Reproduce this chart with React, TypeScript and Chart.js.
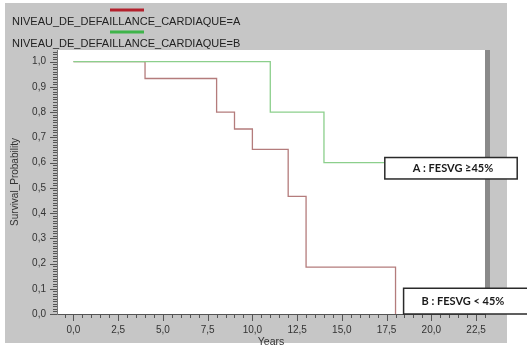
import React, { useEffect, useRef } from 'react';
import { Chart, registerables } from 'chart.js';

Chart.register(...registerables);

// ---- data ----
const seriesLabels = ['NIVEAU_DE_DEFAILLANCE_CARDIAQUE=A', 'NIVEAU_DE_DEFAILLANCE_CARDIAQUE=B'];
const yearsA = [0, 4, 8, 9, 10, 12, 13, 18];
const survivalA = [1.0, 0.933, 0.8, 0.733, 0.652, 0.466, 0.186, 0.0];
const yearsB = [0, 11, 14, 18];
const survivalB = [1.0, 0.8, 0.6, 0.6];
const xMajorTicks = [0, 2.5, 5, 7.5, 10, 12.5, 15, 17.5, 20, 22.5];
const yMajorTicks = [0, 0.1, 0.2, 0.3, 0.4, 0.5, 0.6, 0.7, 0.8, 0.9, 1.0];
const noteTexts = ['A : FESVG ≥45%', 'B : FESVG < 45%'];

// ---- layout / style ----
const X_MIN = -0.92;
const X_MAX = 23.0;
const Y_MIN = 0;
const Y_MAX = 1.046;
const X_MINOR_STEP = 0.5;
const Y_MINOR_STEP = 0.01;
const FONT = '"Liberation Sans", Arial, sans-serif';
const lineColors = ['#b47c7c', '#8ccf8c'];
const legendColors = ['#b3202c', '#3fb44a'];
// note boxes positioned in data space
const notes = [
  { x0: 17.4, x1: 24.8, y0: 0.535, y1: 0.62, tx: 28 },
  { x0: 18.45, x1: 26.0, y0: 0.0, y1: 0.102, tx: 18 },
];

const fmt = (v: number) => v.toFixed(1).replace('.', ',');
const isMajor = (v: number, majors: number[]) => majors.some((m) => Math.abs(m - v) < 1e-6);

function minorTicks(min: number, max: number, step: number) {
  const out: number[] = [];
  const start = Math.ceil(min / step - 1e-9);
  const end = Math.floor(max / step + 1e-9);
  for (let i = start; i <= end; i++) out.push(Math.round(i * step * 1000) / 1000);
  return out;
}

const bgPlugin = {
  id: 'bg',
  beforeDraw(chart: any) {
    const { ctx, chartArea: a } = chart;
    ctx.save();
    ctx.fillStyle = '#ffffff';
    ctx.fillRect(0, 0, chart.width, chart.height);
    ctx.fillStyle = '#c6c6c6';
    ctx.fillRect(5, 3, 502, 340);
    ctx.fillStyle = '#ffffff';
    ctx.fillRect(a.left, a.top, a.right - a.left, a.bottom - a.top);
    ctx.fillStyle = '#8a8a8a';
    ctx.fillRect(a.right, a.top, 5, a.bottom - a.top);
    ctx.restore();
  },
};

const decoPlugin = {
  id: 'deco',
  afterDraw(chart: any) {
    const { ctx, chartArea: a } = chart;
    const xs = chart.scales.x;
    const ys = chart.scales.y;
    ctx.save();
    // tick marks
    ctx.strokeStyle = '#555';
    ctx.lineWidth = 1;
    ctx.beginPath();
    for (const v of minorTicks(X_MIN, X_MAX, X_MINOR_STEP)) {
      const px = Math.round(xs.getPixelForValue(v)) + 0.5;
      const len = isMajor(v, xMajorTicks) ? 7 : 4;
      ctx.moveTo(px, a.bottom);
      ctx.lineTo(px, a.bottom + len);
    }
    for (const v of minorTicks(Y_MIN, Y_MAX, Y_MINOR_STEP)) {
      const py = Math.round(ys.getPixelForValue(v)) + 0.5;
      const len = isMajor(v, yMajorTicks) ? 7 : 4;
      ctx.moveTo(a.left, py);
      ctx.lineTo(a.left - len, py);
    }
    ctx.stroke();

    // legend
    ctx.font = `11px ${FONT}`;
    ctx.textBaseline = 'middle';
    ctx.textAlign = 'left';
    chart.data.datasets.forEach((ds: any, i: number) => {
      const lineY = 10 + i * 22;
      ctx.strokeStyle = legendColors[i];
      ctx.lineWidth = 3;
      ctx.beginPath();
      ctx.moveTo(110, lineY);
      ctx.lineTo(144, lineY);
      ctx.stroke();
      ctx.fillStyle = '#222';
      ctx.fillText(ds.label, 12, lineY + 11.5);
    });

    // note boxes
    notes.forEach((n, i) => {
      const left = xs.getPixelForValue(n.x0);
      const right = xs.getPixelForValue(n.x1);
      const top = ys.getPixelForValue(n.y1);
      const bottom = ys.getPixelForValue(n.y0);
      ctx.fillStyle = '#ffffff';
      ctx.fillRect(left, top, right - left, bottom - top);
      ctx.strokeStyle = '#2a2a2a';
      ctx.lineWidth = 1.5;
      ctx.strokeRect(left, top, right - left, bottom - top);
      ctx.fillStyle = '#1a1a1a';
      ctx.font = `bold 11px Lato, "Open Sans", sans-serif`;
      ctx.textBaseline = 'middle';
      ctx.fillText(noteTexts[i], left + n.tx, (top + bottom) / 2);
    });
    ctx.restore();
  },
};

export default function App() {
  const ref = useRef<HTMLCanvasElement>(null);
  useEffect(() => {
    const allX = minorTicks(X_MIN, X_MAX, X_MINOR_STEP);
    const allY = minorTicks(Y_MIN, Y_MAX, Y_MINOR_STEP);
    const chart = new Chart(ref.current as HTMLCanvasElement, {
      type: 'line',
      data: {
        datasets: [
          {
            label: seriesLabels[0],
            data: yearsA.map((x, i) => ({ x, y: survivalA[i] })),
            borderColor: lineColors[0],
            borderWidth: 1.3,
            pointRadius: 0,
            stepped: 'before',
            fill: false,
            order: 1,
          },
          {
            label: seriesLabels[1],
            data: yearsB.map((x, i) => ({ x, y: survivalB[i] })),
            borderColor: lineColors[1],
            borderWidth: 1.3,
            pointRadius: 0,
            stepped: 'before',
            fill: false,
            order: 0,
          },
        ],
      },
      options: {
        responsive: false,
        animation: false,
        events: [],
        layout: { padding: { top: 50, left: 0, right: 42, bottom: 0 } },
        plugins: { legend: { display: false }, tooltip: { enabled: false } },
        scales: {
          x: {
            type: 'linear',
            min: X_MIN,
            max: X_MAX,
            afterBuildTicks: (s: any) => {
              s.ticks = allX.map((v) => ({ value: v }));
            },
            afterFit: (s: any) => {
              s.height = 31;
            },
            grid: { display: false, drawTicks: true, tickLength: 7 },
            border: { display: true, color: '#555', width: 1 },
            ticks: {
              autoSkip: false,
              maxRotation: 0,
              minRotation: 0,
              padding: 3,
              color: '#333',
              font: { family: FONT, size: 10 },
              callback: (v: any) => (isMajor(Number(v), xMajorTicks) ? fmt(Number(v)) : ''),
            },
            title: {
              display: true,
              text: 'Years',
              color: '#333',
              font: { family: FONT, size: 10.5 },
              padding: { top: 0, bottom: -3 },
            },
          },
          y: {
            type: 'linear',
            min: Y_MIN,
            max: Y_MAX,
            afterBuildTicks: (s: any) => {
              s.ticks = allY.map((v) => ({ value: v }));
            },
            afterFit: (s: any) => {
              s.width = 57;
            },
            grid: { display: false, drawTicks: true, tickLength: 7 },
            border: { display: true, color: '#777', width: 1 },
            ticks: {
              autoSkip: false,
              padding: 4,
              color: '#333',
              font: { family: FONT, size: 10 },
              callback: (v: any) => (isMajor(Number(v), yMajorTicks) ? fmt(Number(v)) : ''),
            },
            title: {
              display: true,
              text: 'Survival_Probability',
              color: '#333',
              font: { family: FONT, size: 10 },
              padding: { top: 9, bottom: 0 },
            },
          },
        },
      },
      plugins: [bgPlugin, decoPlugin],
    });
    return () => chart.destroy();
  }, []);
  return (
    <div style={{ position: 'fixed', left: 0, top: 0, width: 527, height: 345, background: '#fff' }}>
      <canvas ref={ref} width={527} height={345} style={{ display: 'block', width: 527, height: 345 }} />
    </div>
  );
}
